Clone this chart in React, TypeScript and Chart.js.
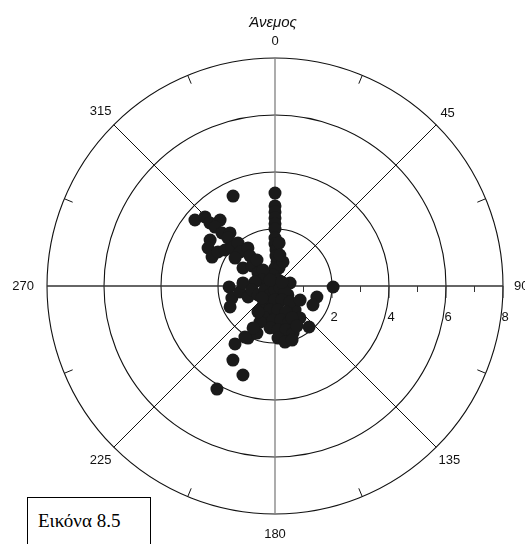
import React, { useEffect, useRef } from "react";
import { Chart, registerables } from "chart.js";

Chart.register(...registerables);

// Wind direction (degrees, clockwise from north) and speed for each observation
const windDirection: number[] = [
  0, 0, 0, 0, 0, 0, 0, 0, 1.6, 1.9, 4.8, 0, 12.5, 18.4, 349.7, 26.6,
  335,
  309.5, 314.6, 314.1, 320.2, 314.5, 315, 319.7, 315.6, 305.3, 299.6, 294.7, 300.8, 305.8, 311.5, 319.3,
  314.2, 305, 324.6, 320.2, 299.4, 311, 325.3, 307.4, 323.1, 294.8, 278.1, 281.3,
  268.8, 254.4, 245, 260.3, 275.4, 247.8, 260.1, 242.1,
  78.7, 124.7, 104.7, 116.6, 91, 140.3, 140.2, 142,
  248.2, 209.1, 180, 111.8, 121, 202.4, 180, 153.4, 136.8, 210.6, 191.8, 172.9, 157.1,
  197.4, 183.4, 170, 158.7, 186.8, 176.1, 166, 159, 176.7, 169.9, 162.5, 202.6, 213.2,
  207.4, 201, 210.5, 207.6, 214.6, 209.6, 199.8, 209.4,
  320.2, 60.3, 227.3, 152, 151.2, 119.25, 5.5, 8.9,
];
const windSpeed: number[] = [
  3.26, 2.81, 2.6, 2.39, 2.18, 2.0, 1.68, 1.47, 1.26, 1.05, 0.85, 0.63, 0.65, 0.89, 0.39, 0.24,
  3.48,
  3.64, 3.45, 3.18, 3.01, 2.95, 2.63, 2.44, 2.36, 2.79, 2.7, 2.43, 2.33, 2.16, 2.01, 1.99,
  1.71, 1.71, 1.64, 1.37, 1.29, 1.07, 1.11, 0.75, 0.7, 0.5, 0.25, 0.72,
  1.61, 1.57, 1.74, 1.25, 1.13, 1.02, 0.82, 0.67,
  0.54, 0.55, 1.52, 1.49, 2.04, 1.87, 1.1, 1.42,
  0.38, 0.36, 0.14, 0.19, 0.41, 0.65, 0.49, 0.55, 0.77, 0.9, 0.86, 0.85, 0.99,
  1.18, 1.2, 1.21, 1.36, 1.48, 1.55, 1.59, 1.77, 1.83, 2.0, 1.99, 1.37, 1.09,
  2.06, 1.77, 2.08, 1.66, 2.47, 2.99, 3.32, 4.15,
  0.27, 0.28, 0.62, 1.27, 1.6, 1.01, 1.52, 1.1,
];

const angleTicks: number[] = [0, 45, 90, 135, 180, 225, 270, 315];
const angleMinorTicks: number[] = [22.5, 67.5, 112.5, 157.5, 202.5, 247.5, 292.5, 337.5];
const radialTicks: number[] = [2, 4, 6, 8];
const radialMinorTicks: number[] = [1, 3, 5, 7];
const radialMax = 8;
const chartTitle = "Άνεμος";
const figureCaption = "Εικόνα 8.5";

const polarGridPlugin = {
  id: "polarGrid",
  beforeDatasetsDraw(chart: any) {
    const ctx = chart.ctx as CanvasRenderingContext2D;
    const xs = chart.scales.x;
    const ys = chart.scales.y;
    const cx = xs.getPixelForValue(0);
    const cy = ys.getPixelForValue(0);
    const unit = xs.getPixelForValue(1) - cx;
    const R = radialMax * unit;
    const rad = (d: number) => (d * Math.PI) / 180;
    ctx.save();

    // rings
    ctx.strokeStyle = "#111";
    ctx.lineWidth = 1.1;
    radialTicks.forEach((r) => {
      ctx.beginPath();
      ctx.arc(cx, cy, r * unit, 0, Math.PI * 2);
      ctx.stroke();
    });

    // spokes
    angleTicks.forEach((a) => {
      if (a >= 180) return;
      const dx = Math.sin(rad(a)) * R;
      const dy = -Math.cos(rad(a)) * R;
      ctx.beginPath();
      if (a === 0) {
        ctx.strokeStyle = "#808080";
        ctx.lineWidth = 1.3;
      } else if (a === 90) {
        ctx.strokeStyle = "#333";
        ctx.lineWidth = 1.5;
      } else {
        ctx.strokeStyle = "#111";
        ctx.lineWidth = 1;
      }
      ctx.moveTo(cx - dx, cy - dy);
      ctx.lineTo(cx + dx, cy + dy);
      ctx.stroke();
    });

    // minor ticks on outer ring
    ctx.strokeStyle = "#111";
    ctx.lineWidth = 1;
    angleMinorTicks.forEach((a) => {
      const s = Math.sin(rad(a));
      const c = -Math.cos(rad(a));
      ctx.beginPath();
      ctx.moveTo(cx + s * R, cy + c * R);
      ctx.lineTo(cx + s * (R - 9), cy + c * (R - 9));
      ctx.stroke();
    });

    // radial axis ticks along 90
    ctx.strokeStyle = "#333";
    ctx.lineWidth = 1;
    radialMinorTicks.forEach((r) => {
      const px = cx + r * unit;
      ctx.beginPath();
      ctx.moveTo(px, cy);
      ctx.lineTo(px, cy + 6);
      ctx.stroke();
    });
    radialTicks.forEach((r) => {
      const px = cx + r * unit;
      ctx.beginPath();
      ctx.moveTo(px, cy);
      ctx.lineTo(px, cy + 12);
      ctx.stroke();
    });

    // labels
    ctx.fillStyle = "#111";
    ctx.font = '13px "Liberation Sans", Arial, sans-serif';
    ctx.textAlign = "center";
    ctx.textBaseline = "middle";
    radialTicks.forEach((r) => {
      ctx.fillText(String(r), cx + r * unit + 2, cy + 31);
    });
    angleTicks.forEach((a) => {
      const s = Math.sin(rad(a));
      const c = -Math.cos(rad(a));
      const txt = String(a);
      const w = ctx.measureText(txt).width;
      const ext = Math.max(Math.abs(s) * (w / 2), Math.abs(c) * 6);
      const extra = a === 180 ? 3 : a === 270 ? 2 : 0;
      const rr = R + 11 + ext + extra;
      ctx.fillText(txt, cx + s * rr, cy + c * rr);
    });

    ctx.font = 'italic 15px "Liberation Sans", Arial, sans-serif';
    ctx.fillText(chartTitle, cx - 2, 23);
    ctx.restore();
  },
};

export default function App() {
  const ref = useRef<HTMLCanvasElement | null>(null);
  useEffect(() => {
    if (!ref.current) return;
    const points = windDirection.map((d, i) => ({
      x: windSpeed[i] * Math.sin((d * Math.PI) / 180),
      y: windSpeed[i] * Math.cos((d * Math.PI) / 180),
    }));
    const chart = new Chart(ref.current, {
      type: "scatter",
      data: {
        datasets: [
          {
            label: chartTitle,
            data: points,
            pointRadius: 6.5,
            pointHoverRadius: 6.5,
            backgroundColor: "#1a1a1a",
            borderWidth: 0,
          },
        ],
      },
      options: {
        responsive: false,
        maintainAspectRatio: false,
        animation: false,
        layout: { padding: { left: 47, right: 22, top: 58, bottom: 30 } },
        scales: {
          x: { type: "linear", min: -radialMax, max: radialMax, display: false },
          y: { type: "linear", min: -radialMax, max: radialMax, display: false },
        },
        plugins: { legend: { display: false }, tooltip: { enabled: false }, title: { display: false } },
      },
      plugins: [polarGridPlugin],
    });
    return () => chart.destroy();
  }, []);

  return (
    <div
      style={{
        position: "fixed",
        left: 0,
        top: 0,
        width: 525,
        height: 544,
        overflow: "hidden",
        background: "#fff",
      }}
    >
      <canvas ref={ref} width={525} height={544} style={{ position: "absolute", left: 0, top: 0 }} />
      <div
        style={{
          position: "absolute",
          left: 27,
          top: 497,
          width: 124,
          height: 60,
          border: "1.5px solid #000",
          boxSizing: "border-box",
          fontFamily: '"Liberation Serif", "Times New Roman", serif',
          fontSize: 19,
          color: "#000",
          paddingTop: 12,
          paddingLeft: 10,
          textAlign: "left",
          background: "#fff",
        }}
      >
        {figureCaption}
      </div>
    </div>
  );
}
